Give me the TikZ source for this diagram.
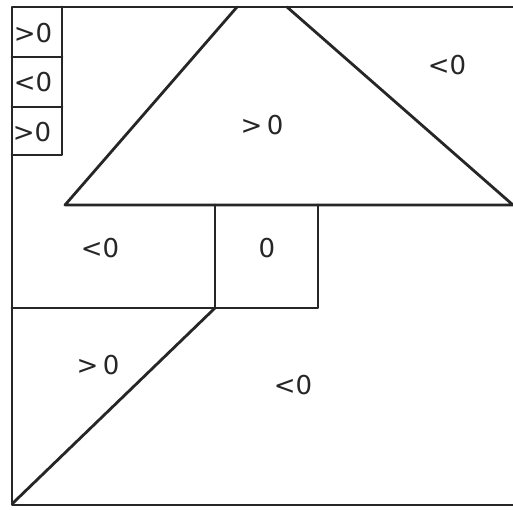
\documentclass[tikz,border=0pt]{standalone}
\usepackage{fontspec}
\setmainfont{DejaVu Sans}
\usetikzlibrary{positioning}
\tikzset{
  wall/.style={line width=2.8pt, draw=black!85, line join=round, line cap=round},
  sign/.style={font=\fontsize{26}{30}\selectfont, text=black!85, inner sep=0pt}
}

\begin{document}
\begin{tikzpicture}[x=1pt, y=-1pt]
  \useasboundingbox (0,0) rectangle (513,509);

  % frame corners
  \coordinate (tl) at (12,7);
  \coordinate (tr) at (513,7);
  \coordinate (bl) at (12,505);
  \coordinate (br) at (513,505);

  % small boxes on the left
  \coordinate (b0) at (62,7);
  \coordinate (b1l) at (12,57);   \coordinate (b1r) at (62,57);
  \coordinate (b2l) at (12,107);  \coordinate (b2r) at (62,107);
  \coordinate (b3l) at (12,155);  \coordinate (b3r) at (62,155);

  % trapezoid
  \coordinate (tpl) at (237,7);
  \coordinate (tpr) at (287,7);
  \coordinate (tbl) at (65,205);
  \coordinate (tbr) at (513,205);

  % middle cells
  \coordinate (m1t) at (215,205);
  \coordinate (m1b) at (215,308);
  \coordinate (m2t) at (318,205);
  \coordinate (m2b) at (318,308);
  \coordinate (mlb) at (12,308);
  \coordinate (foot) at (13,503);

  \draw[wall] (tr) -- (tl) -- (bl) -- (br);
  \draw[wall] (b0) -- (b3r) -- (b3l);
  \draw[wall] (b1l) -- (b1r);
  \draw[wall] (b2l) -- (b2r);
  \draw[wall] (tpl) -- (tbl) -- (tbr) -- (tpr);
  \draw[wall] (m1t) -- (m1b);
  \draw[wall] (m2t) -- (m2b) -- (mlb);
  \draw[wall] (m1b) -- (foot);

  \node[sign] (s1) at (33,33) {>0};
  \node[sign] (s2) at (33,82) {<0};
  \node[sign] (s3) at (32,132) {>0};
  \node[sign] (top) at (262,125) {>\,0};
  \node[sign] (corner) at (447,65) {<0};
  \node[sign] (mid) at (100,248) {<0};
  \node[sign] (zero) at (267,248) {0};
  \node[sign] (low) at (98,365) {>\,0};
  \node[sign] (rest) at (293,385) {<0};
\end{tikzpicture}
\end{document}
